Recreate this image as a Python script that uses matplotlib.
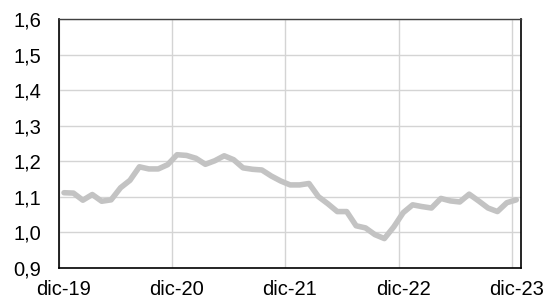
import matplotlib
matplotlib.use("Agg")
import matplotlib.pyplot as plt
import matplotlib.transforms as mtransforms
import numpy as np

plt.rcParams['font.family'] = ['Liberation Sans', 'DejaVu Sans']

# Monthly values (Dec 2019 .. Dec 2023)
values = [1.111, 1.110, 1.090, 1.106, 1.087, 1.091, 1.125, 1.146, 1.184, 1.178,
          1.178, 1.190, 1.218, 1.216, 1.208, 1.191, 1.201, 1.215, 1.204, 1.181,
          1.177, 1.175, 1.158, 1.144, 1.133, 1.133, 1.137, 1.100, 1.080, 1.058,
          1.058, 1.018, 1.012, 0.993, 0.982, 1.015, 1.055, 1.077, 1.072, 1.068,
          1.095, 1.088, 1.085, 1.107, 1.088, 1.068, 1.058, 1.083, 1.091]
month_index = np.arange(len(values)) + 0.5
tick_positions = [0, 12, 24, 36, 48]
tick_labels = ['dic-19', 'dic-20', 'dic-21', 'dic-22', 'dic-23']
y_ticks = [0.9, 1.0, 1.1, 1.2, 1.3, 1.4, 1.5, 1.6]
y_labels = ['0,9', '1,0', '1,1', '1,2', '1,3', '1,4', '1,5', '1,6']

fig = plt.figure(figsize=(5.47, 2.97), dpi=100)
ax = fig.add_axes([59.3/547, 1-267.7/297, (521-59.3)/547, (267.7-19)/297])

ax.plot(month_index, values, color='#c3c3c3', lw=4.0, solid_capstyle='round',
        solid_joinstyle='round', zorder=3)

ax.set_xlim(0, 49)
ax.set_ylim(0.9, 1.6)
ax.set_xticks(tick_positions)
ax.set_xticklabels(tick_labels)
ax.set_yticks(y_ticks)
ax.set_yticklabels(y_labels)
ax.tick_params(axis='both', length=0, labelsize=14.5, colors='black')
ax.tick_params(axis='x', pad=8.5)
ax.tick_params(axis='y', pad=13)
offset = mtransforms.ScaledTranslation(4.5/100, 0, fig.dpi_scale_trans)
for lbl in ax.get_xticklabels():
    lbl.set_transform(lbl.get_transform() + offset)

ax.grid(True, color='#d4d4d4', lw=1.0, zorder=0)
for s in ['left', 'bottom', 'right']:
    ax.spines[s].set_color('black')
    ax.spines[s].set_linewidth(1.2)
ax.spines['top'].set_color('#404040')
ax.spines['top'].set_linewidth(1.0)

fig.savefig('out.png', dpi=100)
